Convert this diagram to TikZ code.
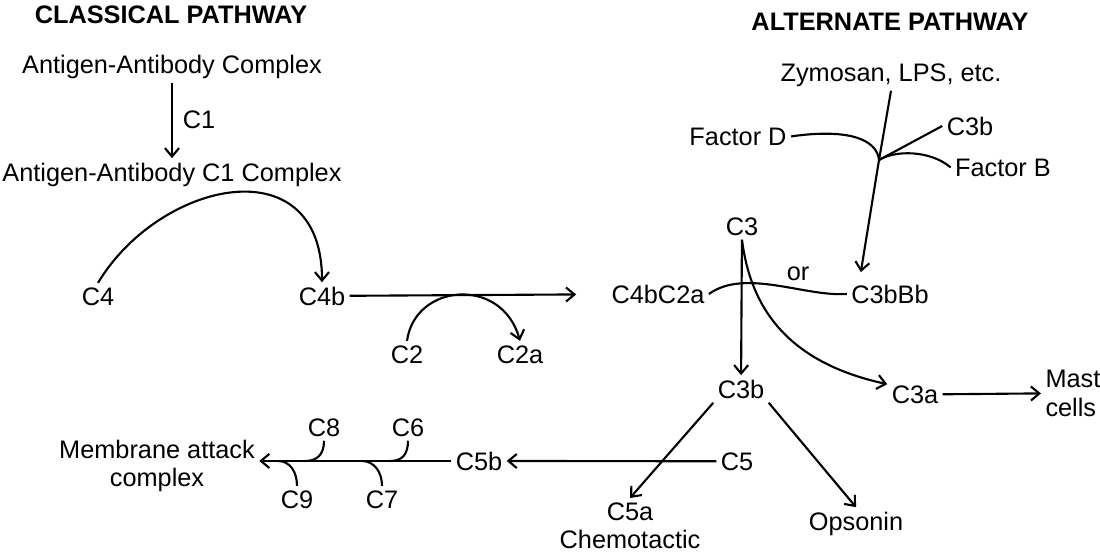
\documentclass[tikz,border=0pt]{standalone}
\usepackage{fontspec}
\setmainfont{Liberation Sans}
\usetikzlibrary{arrows.meta}

\begin{document}
\begin{tikzpicture}[x=0.025cm, y=-0.025cm,
  every node/.style={font=\fontsize{18}{20}\selectfont, inner sep=3pt},
  head/.style={font=\fontsize{18}{20}\selectfont\bfseries},
  link/.style={line width=1.5pt},
  arr/.style={link, -{Straight Barb[length=6pt,width=10pt]}}]

  \useasboundingbox (0,0) rectangle (1100,553);

  %% Classical pathway
  \node[head, anchor=base] (clhead) at (171,23) {CLASSICAL PATHWAY};
  \node[anchor=base] (agc) at (172,73) {Antigen-Antibody Complex};
  \node[anchor=base] (cone) at (199,128) {C1};
  \node[anchor=base] (agcone) at (172,181) {Antigen-Antibody C1 Complex};
  \node[anchor=base] (cfour) at (98,305) {C4};
  \node[anchor=base] (cfourb) at (322,305) {C4b};
  \node[anchor=base] (ctwo) at (407,363) {C2};
  \node[anchor=base] (ctwoa) at (520,363) {C2a};
  \node[anchor=base] (cfourbctwoa) at (658,303) {C4bC2a};

  \draw[arr] (agc) -- (agcone);
  \draw[arr] (cfour.north) .. controls (160,180) and (322,145) .. (cfourb.north);
  \draw[arr, shorten >=22pt] (cfourb) -- (cfourbctwoa);
  \draw[arr] (ctwo.north) .. controls (415,283) and (502,276) .. (ctwoa.north);

  %% Alternate pathway
  \node[head, anchor=base] (althead) at (890,30) {ALTERNATE PATHWAY};
  \node[anchor=base] (zym) at (891,81) {Zymosan, LPS, etc.};
  \node[anchor=base] (factd) at (738,145) {Factor D};
  \node[anchor=base] (cthreebalt) at (970,135) {C3b};
  \node[anchor=base] (factb) at (1003,176) {Factor B};
  \node[anchor=base] (cthreebbb) at (890,303) {C3bBb};
  \coordinate (junc) at (879,160);

  \draw[arr] (zym.south) -- (junc) -- ([shift={(14,-8)}]cthreebbb.north west);
  \draw[link] (factd.east) .. controls (850,128) and (877,140) .. (junc);
  \draw[link] (cthreebalt.west) -- (junc);
  \draw[link] (factb.west) .. controls (930,150) and (895,150) .. (junc);

  %% C3 cleavage
  \node[anchor=base] (cthree) at (742,235) {C3};
  \node[anchor=base] (orlab) at (798,280) {or};
  \node[anchor=base] (cthreeb) at (741,398) {C3b};
  \node[anchor=base] (cthreea) at (915,403) {C3a};
  \node[anchor=north west, align=left] (mast) at (1041,366) {Mast\\cells};

  \draw[link] (cfourbctwoa.east) .. controls (745,268) and (805,297) .. (cthreebbb.west);
  \draw[arr] (cthree) -- (cthreeb);
  \draw[arr] (cthree.south) .. controls (752,320) and (800,365) .. (cthreea.160);
  \draw[arr] (cthreea.east) -- (mast.west);

  %% C5 and membrane attack complex
  \node[anchor=base] (cfive) at (737,470) {C5};
  \node[anchor=base] (cfiveb) at (479,470) {C5b};
  \node[anchor=north, align=center] (cfivea) at (630,498) {C5a\\Chemotactic};
  \node[anchor=base] (opso) at (856,530) {Opsonin};
  \node[anchor=north, align=center] (mac) at (157,436) {Membrane attack\\complex};
  \node[anchor=base] (ceight) at (324,436) {C8};
  \node[anchor=base] (csix) at (408,436) {C6};
  \node[anchor=base] (cnine) at (297,508) {C9};
  \node[anchor=base] (cseven) at (382,508) {C7};
  \coordinate (jeight) at (305,461);
  \coordinate (jsix) at (390,461);
  \coordinate (jseven) at (362,461);
  \coordinate (jnine) at (278,461);

  \draw[arr] (cthreeb.south west) -- (cfivea.north);
  \draw[arr] (cthreeb.south east) -- (opso.north);
  \draw[arr] (cfive.west) -- (cfiveb.east);
  \draw[arr] (cfiveb.west) -- (mac.east |- cfiveb.west);
  \draw[link] (ceight.south) .. controls +(0,14) and +(12,0) .. (jeight);
  \draw[link] (csix.south) .. controls +(0,14) and +(12,0) .. (jsix);
  \draw[link] (cseven.north) .. controls +(0,-14) and +(12,0) .. (jseven);
  \draw[link] (cnine.north) .. controls +(0,-14) and +(12,0) .. (jnine);

\end{tikzpicture}
\end{document}
